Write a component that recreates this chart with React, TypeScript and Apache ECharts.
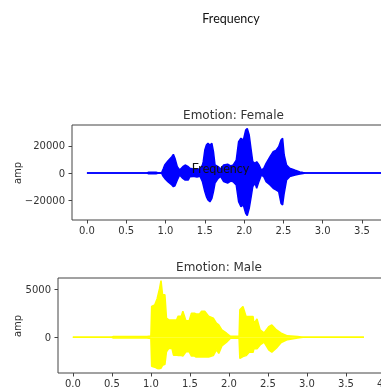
import React, { useEffect, useRef } from 'react';
import * as echarts from 'echarts';

// ---- Female waveform envelope (time s, upper amp, lower amp) ----
const femaleT = [0.0, 0.76, 0.78, 0.88, 0.9, 0.95, 0.97, 0.99, 1.03, 1.08, 1.1, 1.12, 1.15, 1.18, 1.22, 1.25, 1.29, 1.31, 1.35, 1.4, 1.44, 1.47, 1.48, 1.5, 1.52, 1.54, 1.565, 1.59, 1.61, 1.63, 1.67, 1.7, 1.74, 1.79, 1.83, 1.86, 1.9, 1.93, 1.96, 1.99, 2.02, 2.04, 2.065, 2.09, 2.11, 2.14, 2.16, 2.19, 2.22, 2.25, 2.28, 2.33, 2.37, 2.41, 2.44, 2.47, 2.49, 2.51, 2.54, 2.58, 2.65, 2.71, 2.75, 2.78, 3.8];
const femaleHi = [0, 0, 500, 500, 150, 200, 3000, 5900, 8900, 12100, 13800, 10900, 4700, 2200, 4700, 5900, 4700, 3500, 3000, 3200, 2800, 6000, 8400, 17000, 20700, 22000, 20700, 22000, 15800, 5900, 4700, 3000, 5900, 6500, 5200, 5900, 9600, 23200, 25700, 24400, 31800, 33000, 28100, 17000, 8400, 7200, 8400, 5900, 2200, 3500, 7200, 12100, 15800, 17000, 19500, 24400, 25700, 13300, 5900, 3500, 2000, 800, 300, 0, 0];
const femaleLo = [0, 0, -500, -500, -150, -200, -2500, -4000, -6400, -8900, -10100, -9500, -5200, -1500, -4000, -5200, -5200, -2700, -2500, -3000, -2500, -6500, -8900, -13800, -17500, -20000, -21300, -18800, -13800, -7400, -4000, -2500, -6400, -7400, -6000, -6400, -8900, -21300, -25000, -23700, -29900, -31600, -26200, -17500, -10100, -7600, -11300, -6000, -1500, -2700, -6400, -8900, -11300, -12600, -13800, -22500, -23700, -15000, -5200, -2700, -1500, -800, -300, 0, 0];

// ---- Male waveform envelope ----
const maleT = [0.0, 0.5, 0.52, 0.95, 1.0, 1.01, 1.05, 1.08, 1.11, 1.13, 1.15, 1.18, 1.2, 1.23, 1.27, 1.29, 1.33, 1.35, 1.39, 1.41, 1.45, 1.49, 1.52, 1.56, 1.58, 1.62, 1.65, 1.69, 1.74, 1.8, 1.84, 1.87, 1.91, 1.97, 2.02, 2.13, 2.14, 2.18, 2.22, 2.26, 2.31, 2.32, 2.36, 2.4, 2.45, 2.51, 2.55, 2.61, 2.67, 2.75, 2.88, 2.95, 3.73];
const maleHi = [0, 0, 80, 80, 120, 3200, 3360, 4000, 5000, 5870, 4400, 4400, 1980, 1800, 1800, 1800, 1800, 2190, 2190, 2700, 1700, 1700, 2500, 2500, 2400, 2400, 2700, 2700, 2190, 1980, 1460, 1280, 760, 420, 100, 100, 2850, 3200, 2150, 2150, 2150, 1400, 1900, 760, 450, 1100, 1280, 760, 420, 150, 80, 0, 0];
const maleLo = [0, 0, -80, -80, -120, -3000, -3100, -3230, -3250, -3200, -2900, -2800, -1500, -1150, -1150, -1850, -1850, -1900, -1900, -1950, -1500, -1500, -1950, -1950, -2050, -2050, -2050, -2050, -2050, -1900, -1300, -1670, -900, -500, -100, -100, -2190, -2000, -1900, -1550, -1550, -1200, -1200, -800, -500, -1300, -1550, -1100, -550, -250, -80, 0, 0];

// ---- Tick labels ----
const femaleXTicks = [0, 0.5, 1.0, 1.5, 2.0, 2.5, 3.0, 3.5];
const maleXTicks = [0, 0.5, 1.0, 1.5, 2.0, 2.5, 3.0, 3.5, 4.0];
const femaleYTicks = [-20000, 0, 20000];
const maleYTicks = [0, 5000];

const titles = ['Emotion: Female', 'Emotion: Male'];
const yLabel = 'amp';
const overlayText = 'Frequency';

const TXT = '#333';
const FRAME = '#444';
const TICKFONT = 'DejaVu Sans';

const fmtNum = (v: number) => (v < 0 ? '\u2212' + Math.abs(v) : String(v));

function mkX(idx: number, min: number, max: number, ticks: number[]) {
  return {
    type: 'value', gridIndex: idx, min, max,
    splitLine: { show: false },
    axisLine: { show: false, onZero: false },
    axisTick: { show: true, inside: false, length: 3.5, customValues: ticks, lineStyle: { color: FRAME, width: 1 } },
    axisLabel: { customValues: ticks, margin: 5, color: TXT, fontFamily: TICKFONT, fontSize: 10, formatter: (v: number) => v.toFixed(1) },
  };
}
function mkY(idx: number, min: number, max: number, ticks: number[]) {
  return {
    type: 'value', gridIndex: idx, min, max,
    splitLine: { show: false },
    axisLine: { show: false, onZero: false },
    axisTick: { show: true, inside: false, length: 3.5, customValues: ticks, lineStyle: { color: FRAME, width: 1 } },
    axisLabel: { customValues: ticks, margin: 7, color: TXT, fontFamily: TICKFONT, fontSize: 10, formatter: fmtNum },
  };
}
function mkSeries(idx: number, t: number[], v: number[], color: string) {
  return {
    type: 'line', xAxisIndex: idx, yAxisIndex: idx,
    data: t.map((x, i) => [x, v[i]]),
    showSymbol: false, symbol: 'none', silent: true,
    lineStyle: { color, width: 1.5 },
    areaStyle: { color, opacity: 1 },
    itemStyle: { color },
  };
}

export default function App() {
  const ref = useRef<HTMLDivElement>(null);
  useEffect(() => {
    const chart = echarts.init(ref.current!, null, { renderer: 'svg' });
    chart.setOption({
      animation: false,
      grid: [
        { left: 72, top: 125, width: 328.5, height: 95, show: true, borderColor: FRAME, borderWidth: 1, backgroundColor: 'transparent', containLabel: false, outerBoundsMode: 'none' },
        { left: 58, top: 278, width: 327, height: 95, show: true, borderColor: FRAME, borderWidth: 1, backgroundColor: 'transparent', containLabel: false, outerBoundsMode: 'none' },
      ],
      xAxis: [mkX(0, -0.19, 3.99, femaleXTicks), mkX(1, -0.19, 4.0, maleXTicks)],
      yAxis: [mkY(0, -34800, 35550, femaleYTicks), mkY(1, -3700, 6140, maleYTicks)],
      series: [
        mkSeries(0, femaleT, femaleHi, '#0000ff'),
        mkSeries(0, femaleT, femaleLo, '#0000ff'),
        mkSeries(1, maleT, maleHi, '#ffff00'),
        mkSeries(1, maleT, maleLo, '#ffff00'),
      ],
      graphic: [
        { type: 'text', x: 231, y: 18, z: 100, style: { text: overlayText, align: 'center', verticalAlign: 'middle', fontFamily: 'Lato', fontSize: 12.5, fill: '#111' } },
        { type: 'text', x: 233.5, y: 115, z: 100, style: { text: titles[0], align: 'center', verticalAlign: 'middle', fontFamily: TICKFONT, fontSize: 12, fill: TXT } },
        { type: 'text', x: 219, y: 267, z: 100, style: { text: titles[1], align: 'center', verticalAlign: 'middle', fontFamily: TICKFONT, fontSize: 12, fill: TXT } },
        { type: 'text', x: 17, y: 173, rotation: Math.PI / 2, z: 100, style: { text: yLabel, align: 'center', verticalAlign: 'middle', fontFamily: TICKFONT, fontSize: 10, fill: TXT } },
        { type: 'text', x: 17, y: 326, rotation: Math.PI / 2, z: 100, style: { text: yLabel, align: 'center', verticalAlign: 'middle', fontFamily: TICKFONT, fontSize: 10, fill: TXT } },
        { type: 'text', x: 220.5, y: 168, z: 100, style: { text: overlayText, align: 'center', verticalAlign: 'middle', fontFamily: 'Lato', fontSize: 12.5, fill: '#111' } },
      ],
    });
    return () => chart.dispose();
  }, []);
  return <div ref={ref} style={{ position: 'fixed', left: 0, top: 0, width: 381, height: 388 }} />;
}
